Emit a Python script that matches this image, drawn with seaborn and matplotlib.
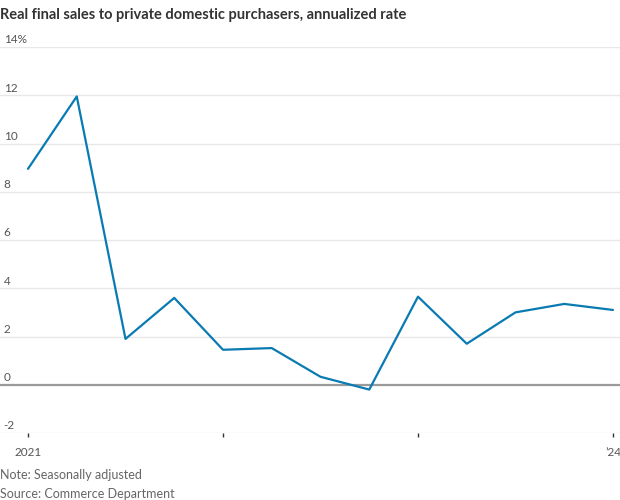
import matplotlib
matplotlib.use("Agg")
import matplotlib.pyplot as plt
import matplotlib.transforms as mtransforms
import seaborn as sns
import pandas as pd

quarters = ["2021Q1", "2021Q2", "2021Q3", "2021Q4", "2022Q1", "2022Q2", "2022Q3",
            "2022Q4", "2023Q1", "2023Q2", "2023Q3", "2023Q4", "2024Q1"]
values = [8.95, 11.95, 1.9, 3.6, 1.45, 1.52, 0.33, -0.2, 3.65, 1.7, 3.0, 3.35, 3.1]
y_ticks = [-2, 0, 2, 4, 6, 8, 10, 12, 14]
y_labels = ["-2", "0", "2", "4", "6", "8", "10", "12", "14%"]
x_tick_pos = [0, 4, 8, 12]
x_tick_labels = ["2021", "", "", "\u201924"]

title = "Real final sales to private domestic purchasers, annualized rate"
note = "Note: Seasonally adjusted"
source = "Source: Commerce Department"

df = pd.DataFrame({"idx": range(len(values)), "value": values, "quarter": quarters})

sns.set_theme(style="white")
plt.rcParams["font.family"] = ["Lato", "DejaVu Sans"]

fig = plt.figure(figsize=(6.2, 5), dpi=100)
ax = fig.add_axes([0.0, 0.134, 1.0, 0.772])

sns.lineplot(data=df, x="idx", y="value", ax=ax, color="#0a7ab3", linewidth=1.6)

ax.set_xlim(-28 / 48.75, 12 + 7 / 48.75)
ax.set_ylim(-2, 14)

for t in y_ticks:
    if t == 0:
        ax.axhline(t, color="#9a9a9a", linewidth=1.6, zorder=1)
    else:
        ax.axhline(t, color="#e8e8e8", linewidth=1.0, zorder=0)

trans = mtransforms.blended_transform_factory(ax.transAxes, ax.transData)
for t, lab in zip(y_ticks, y_labels):
    ax.text(0.006, t + 0.07, lab, transform=trans, ha="left", va="bottom",
            fontsize=8.5, color="#555555")

ax.set_yticks([])
ax.set_xticks(x_tick_pos)
ax.set_xticklabels(x_tick_labels, fontsize=8.5, color="#555555")
ax.tick_params(axis="x", length=3, width=1, color="#333333", pad=7, bottom=True)
for s in ax.spines.values():
    s.set_visible(False)
ax.set_xlabel("")
ax.set_ylabel("")

fig.text(0.0, 0.985, title, ha="left", va="top", fontsize=10.5, fontweight="bold",
         color="#333333")
fig.text(0.0, 0.038, note, ha="left", va="bottom", fontsize=9, color="#666666")
fig.text(0.0, 0.0, source, ha="left", va="bottom", fontsize=9, color="#666666")

fig.savefig("out.png", dpi=100)
